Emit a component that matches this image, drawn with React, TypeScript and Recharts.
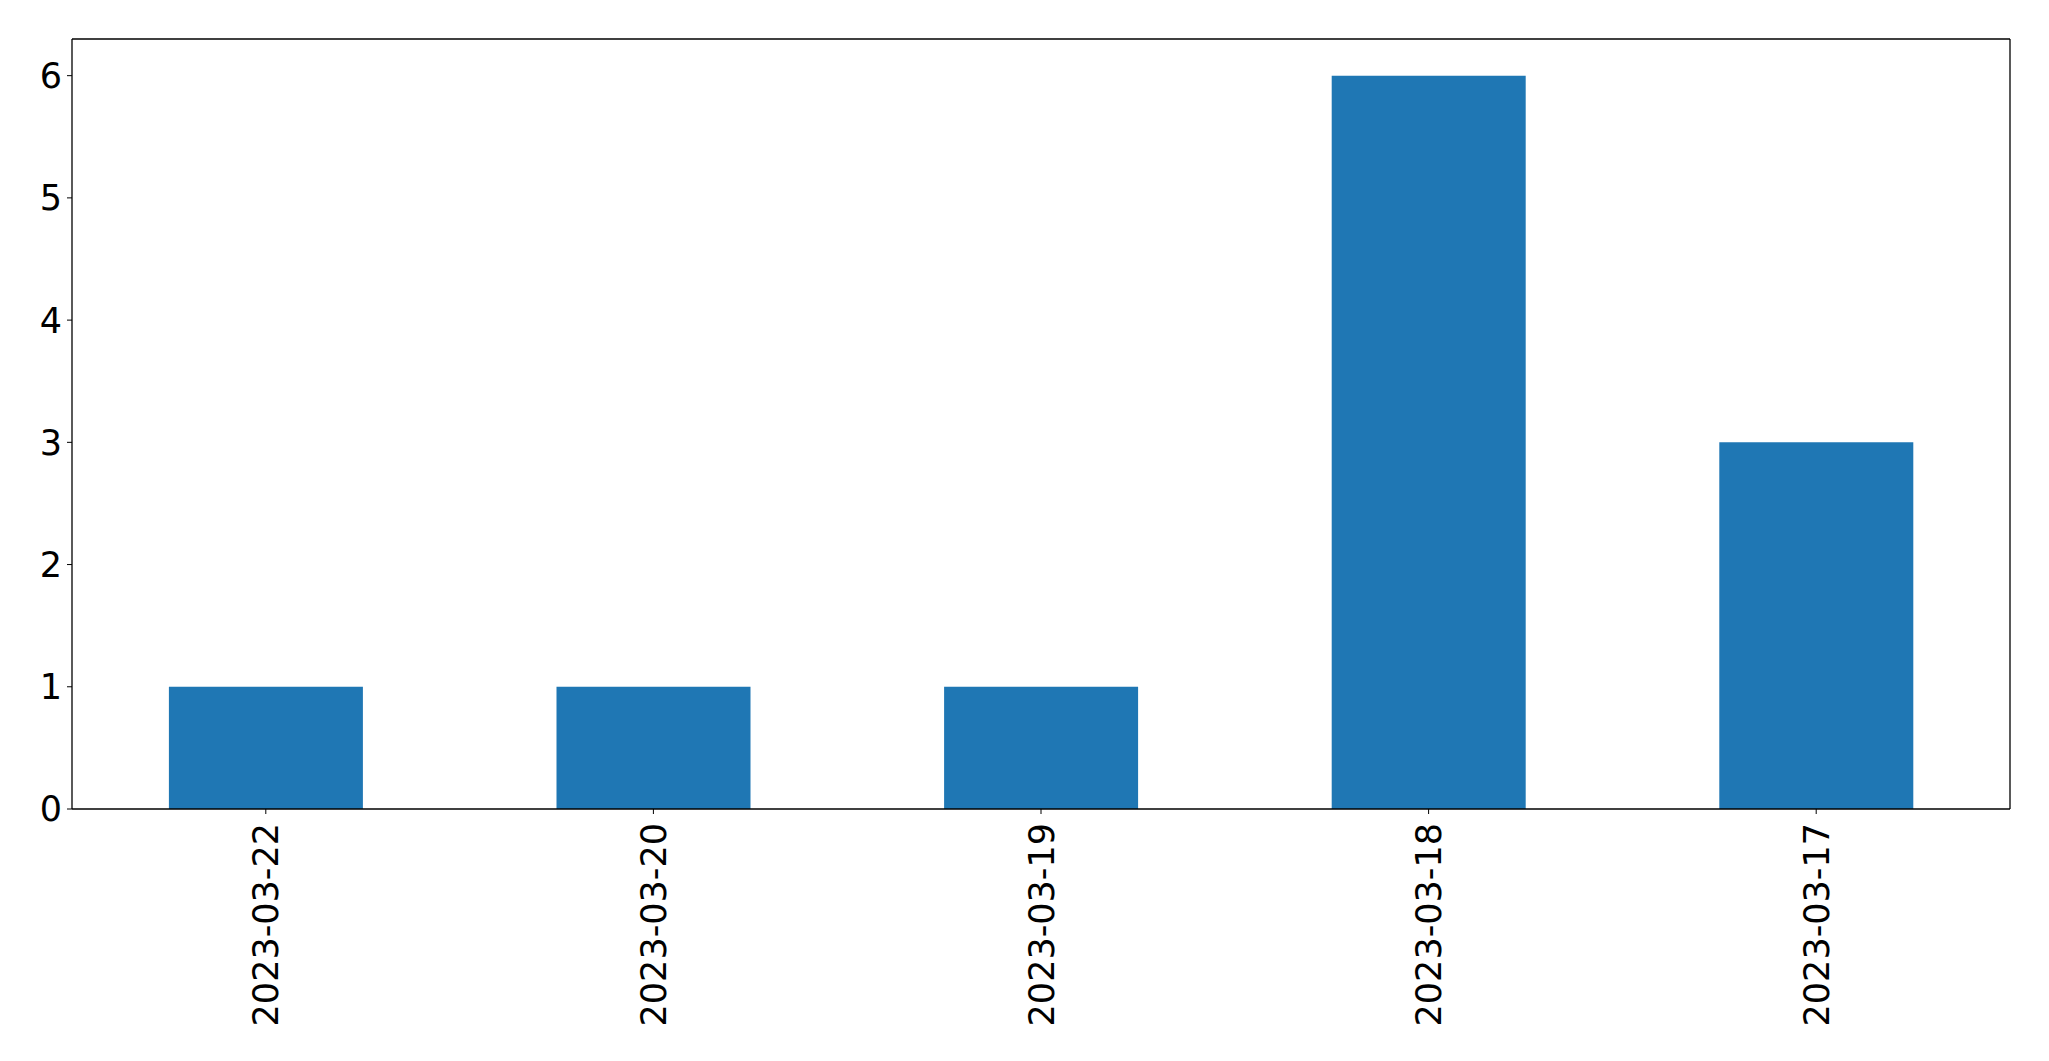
import { BarChart, Bar, XAxis, YAxis, CartesianGrid } from 'recharts';

// counts per day, in the order shown
const dates = ['2023-03-22', '2023-03-20', '2023-03-19', '2023-03-18', '2023-03-17'];
const counts = [1, 1, 1, 6, 3];
const yTicks = [0, 1, 2, 3, 4, 5, 6];

const data = dates.map((d, i) => ({ date: d, count: counts[i] }));

const FONT = 'DejaVu Sans, sans-serif';
const FONT_SIZE = 35;

// rotated date label, reads bottom to top like matplotlib's rotation=90
function DateTick(props: any) {
  const { x, y, payload } = props;
  const ty = y + 7;
  return (
    <text
      x={x}
      y={ty}
      transform={`rotate(-90, ${x}, ${ty})`}
      textAnchor="end"
      dy="0.36em"
      fontSize={FONT_SIZE}
      fontFamily={FONT}
      fill="#000"
    >
      {payload.value}
    </text>
  );
}

export default function App() {
  return (
    <div style={{ position: 'absolute', left: 0, top: 0, background: '#fff' }}>
      <BarChart
        width={2049}
        height={1061}
        data={data}
        margin={{ top: 39, right: 39, left: 0, bottom: 0 }}
        barCategoryGap="25%"
      >
        {/* top and right frame lines */}
        <CartesianGrid
          stroke="#000"
          strokeWidth={1.3}
          horizontalCoordinatesGenerator={({ offset }: any) => [offset.top]}
          verticalCoordinatesGenerator={({ offset }: any) => [offset.left + offset.width]}
        />
        <XAxis
          dataKey="date"
          height={252}
          axisLine={{ stroke: '#000', strokeWidth: 1.3 }}
          tickLine={{ stroke: '#000' }}
          tickSize={5}
          tick={<DateTick />}
          interval={0}
        />
        <YAxis
          width={72}
          domain={[0, 6.3]}
          ticks={yTicks}
          allowDataOverflow
          axisLine={{ stroke: '#000', strokeWidth: 1.3 }}
          tickLine={{ stroke: '#000' }}
          tickSize={5}
          tickMargin={5}
          tick={{ fontSize: FONT_SIZE, fontFamily: FONT, fill: '#000' }}
        />
        <Bar dataKey="count" fill="#1f77b4" isAnimationActive={false} />
      </BarChart>
    </div>
  );
}
